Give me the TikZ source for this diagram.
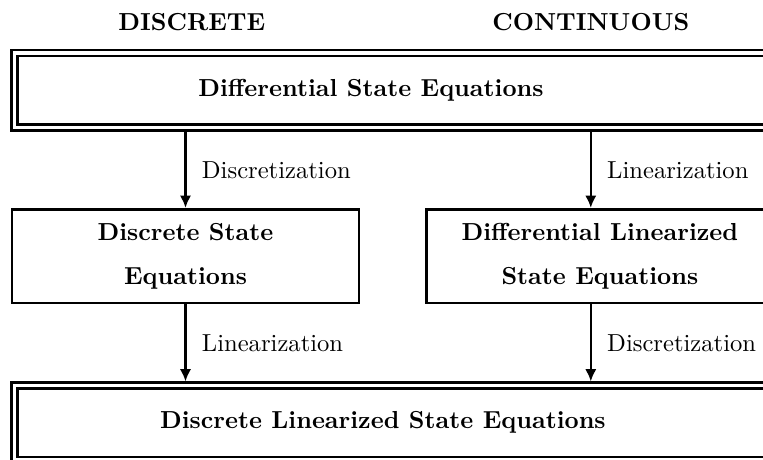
\documentclass[tikz,border=0pt]{standalone}
\usetikzlibrary{arrows.meta}
\begin{document}
\begin{tikzpicture}[
	head/.style={font=\bfseries},
	box/.style={rectangle,draw,line width=1.1pt,minimum width=4.96cm,minimum height=1.34cm,align=center,font=\bfseries},
	dbox/.style={rectangle,draw,line width=1pt,double,double distance=1.45pt,outer sep=1.7pt,minimum width=10.82cm,minimum height=1.06cm},
	flow/.style={-{Latex[length=5pt,width=4.6pt]},line width=1pt},
	lbl/.style={right=1mm}]
	\useasboundingbox (0,0) rectangle (10.9,6.56);
	\clip (0,0) rectangle (10.9,6.56);

	% column titles
	\node (disc) [head] at (2.74,6.24) {DISCRETE};
	\node (cont) [head] at (8.44,6.24) {CONTINUOUS};

	% boxes (the wide ones run off the right edge, so their text is placed on its own)
	\node (diff) [dbox] at (5.62,5.27) {};
	\node (difft) [head] at (5.30,5.27) {Differential State Equations};
	\node (dstate) [box] at (2.65,2.90) {Discrete State\\[6pt]Equations};
	\node (dlin) [box] at (8.57,2.90) {Differential Linearized\\[6pt]State Equations};
	\node (dlinstate) [dbox] at (5.62,0.52) {};
	\node (dlinstatet) [head] at (5.47,0.52) {Discrete Linearized State Equations};

	% left path: discretize first, then linearize
	\draw [flow] (diff.south -| dstate) -- node [lbl] {Discretization} (dstate.north);
	\draw [flow] (dstate.south) -- node [lbl] {Linearization} (dlinstate.north -| dstate);
	% right path: linearize first, then discretize
	\draw [flow] (diff.south -| cont) -- node [lbl] {Linearization} (dlin.north -| cont);
	\draw [flow] (dlin.south -| cont) -- node [lbl] {Discretization} (dlinstate.north -| cont);
\end{tikzpicture}
\end{document}
